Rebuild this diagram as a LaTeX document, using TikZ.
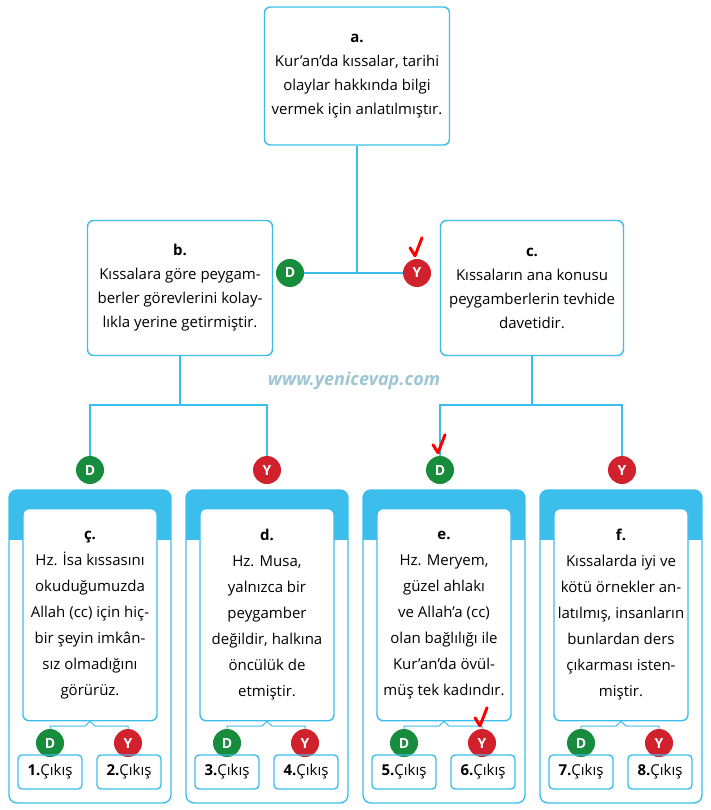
\documentclass[tikz,border=0pt]{standalone}
\usepackage{fontspec}
\setmainfont{Open Sans}
\usetikzlibrary{positioning}
\usetikzlibrary{calc}
\definecolor{kblue}{RGB}{59,190,235}
\definecolor{kgreen}{RGB}{22,140,60}
\definecolor{kred}{RGB}{208,33,45}
\tikzset{
  qbox/.style={draw=kblue, line width=1.4pt, rounded corners=6pt, fill=white, align=center,
    font=\fontsize{15}{24}\selectfont, inner sep=3pt},
  pbox/.style={qbox, font=\fontsize{15}{26}\selectfont},
  dd/.style={circle, fill=kgreen, text=white, font=\bfseries\fontsize{14}{14}\selectfont, minimum size=28pt, inner sep=0pt},
  yy/.style={dd, fill=kred},
  link/.style={draw=kblue, line width=1.4pt},
  exitbox/.style={draw=kblue, line width=1.4pt, rounded corners=4pt, minimum width=64pt, minimum height=34pt,
    font=\fontsize{15}{15}\selectfont, inner sep=0pt},
  tick/.style={draw=red, line width=3pt, line cap=round, line join=round}
}
\newcommand{\tickmark}[1]{\draw[tick] ($(#1.north)+(-7,-11)$) -- ($(#1.north)+(-2,-3)$) -- ($(#1.north)+(5,-21)$);}
\begin{document}
\begin{tikzpicture}[x=1pt, y=-1pt]
\useasboundingbox (0,0) rectangle (710,810);
% top level
\node[qbox, minimum width=185pt, minimum height=138pt] (a) at (357,76) {\textbf{a.}\\Kur'an'da kıssalar, tarihi\\olaylar hakkında bilgi\\vermek için anlatılmıştır.};
\node[qbox, minimum width=185pt, minimum height=135pt] (b) at (180,288) {\textbf{b.}\\Kıssalara göre peygam-\\berler görevlerini kolay-\\lıkla yerine getirmiştir.};
\node[qbox, minimum width=183pt, minimum height=135pt] (c) at (532,288) {\textbf{c.}\\Kıssaların ana konusu\\peygamberlerin tevhide\\davetidir.};
\node[dd] (aD) at (290,273) {D};
\node[yy] (aY) at (417,273) {Y};
\coordinate (aj) at (357,272);
\draw[link] (a) -- (aj);
\draw[link] (aD) -- (aY);
% second level
\node[dd] (bD) at (90,470) {D};
\node[yy] (bY) at (267,470) {Y};
\node[dd] (cD) at (440,470) {D};
\node[yy] (cY) at (622,470) {Y};
\coordinate (bj) at (180,405);
\coordinate (cj) at (532,405);
\draw[link] (b) -- (bj);
\draw[link] (bD) -- (bD|-bj) -- (bY|-bj) -- (bY);
\draw[link] (c) -- (cj);
\draw[link] (cD) -- (cD|-cj) -- (cY|-cj) -- (cY);
\node[text=kblue!50!gray, font=\itshape\bfseries\fontsize{18}{18}\selectfont, opacity=0.6] (wm) at (354,381) {www.yenicevap.com};
% panels
\foreach \cx/\lab/\txt/\m/\n in {
  90/ç./{Hz. İsa kıssasını\\okuduğumuzda\\Allah (cc) için hiç-\\bir şeyin imkân-\\sız olmadığını\\görürüz.}/1/2,
  267/d./{Hz. Musa,\\yalnızca bir\\peygamber\\değildir, halkına\\öncülük de\\etmiştir.}/3/4,
  444/e./{Hz. Meryem,\\güzel ahlakı\\ve Allah'a (cc)\\olan bağlılığı ile\\Kur'an'da övül-\\müş tek kadındır.}/5/6,
  621/f./{Kıssalarda iyi ve\\kötü örnekler an-\\latılmış, insanların\\bunlardan ders\\çıkarması isten-\\miştir.}/7/8} {
  \begin{scope}
    \clip[rounded corners=8pt] (\cx-81,490) rectangle (\cx+81,803);
    \fill[kblue] (\cx-81,490) rectangle (\cx+81,540);
  \end{scope}
  \draw[kblue, line width=1.4pt, rounded corners=8pt] (\cx-81,490) rectangle (\cx+81,803);
  \node[pbox, minimum width=134pt, minimum height=212pt, anchor=north] (p\m) at (\cx,508) {\textbf{\lab}\\\txt};
  \node[dd] (pD\m) at (\cx-40,743) {D};
  \node[yy] (pY\m) at (\cx+38,743) {Y};
  \node[exitbox] (x\m) at (\cx-40,772) {\textbf{\m.}Çıkış};
  \node[exitbox] (x\n) at (\cx+39,772) {\textbf{\n.}Çıkış};
  \draw[link, line width=1pt] (pD\m) -- ++(0,-17) -- (\cx-5,726) -- (p\m.south) -- (\cx+5,726) -- ($(pY\m)+(0,-17)$) -- (pY\m);
}
% answers
\tickmark{aY}
\tickmark{cD}
\tickmark{pY5}
\end{tikzpicture}
\end{document}
